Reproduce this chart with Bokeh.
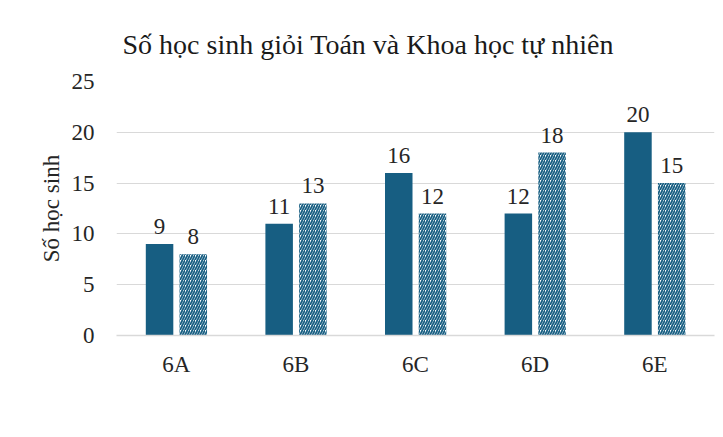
from bokeh.plotting import figure
from bokeh.models import (FactorRange, Range1d, FixedTicker, ColumnDataSource,
                          Legend, LegendItem)
from bokeh.transform import dodge
from bokeh.core.properties import value
from bokeh.embed import file_html
from bokeh.resources import INLINE

# ---- data ----
classes = ["6A", "6B", "6C", "6D", "6E"]
toan = [9, 11, 16, 12, 20]
khtn = [8, 13, 12, 18, 15]
series_names = ["Toán", "KHTN"]
y_ticks = [0, 5, 10, 15, 20, 25]
title_text = "Số học sinh giỏi Toán và Khoa học tự nhiên"
y_label = "Số học sinh"

FONT = "Liberation Serif"
BLUE = "#175e82"
TXT = "#262626"
FS = "23px"

src = ColumnDataSource(dict(
    cls=classes, toan=toan, khtn=khtn,
    toan_t=[str(v) for v in toan], khtn_t=[str(v) for v in khtn],
))

p = figure(frame_width=598, frame_height=254,
           x_range=FactorRange(*classes, range_padding=0),
           y_range=Range1d(0, 25), output_backend="svg", toolbar_location=None,
           min_border_left=116, min_border_right=9, min_border_top=81,
           min_border_bottom=0)
p.outline_line_color = None
p.background_fill_color = "white"
p.border_fill_color = "white"

# title
p.title.text = title_text
p.title.text_font = FONT
p.title.text_font_size = "28px"
p.title.text_font_style = "normal"
p.title.text_color = "#1a1a1a"
p.title.align = "left"
p.title.offset = 6
p.title.standoff = 43

r1 = p.vbar(x=dodge("cls", -0.14, range=p.x_range), top="toan", width=0.23,
            source=src, fill_color=BLUE, line_color=None)
r2 = p.vbar(x=dodge("cls", 0.142, range=p.x_range), top="khtn", width=0.23,
            source=src, fill_color="white", line_color=None,
            hatch_pattern="right_diagonal_line", hatch_color=BLUE,
            hatch_scale=5, hatch_weight=1.8)

p.text(x=dodge("cls", -0.14, range=p.x_range), y="toan", text="toan_t", source=src,
       text_font=value(FONT), text_font_size=FS, text_color=TXT,
       text_align="center", text_baseline="bottom", y_offset=-10)
p.text(x=dodge("cls", 0.142, range=p.x_range), y="khtn", text="khtn_t", source=src,
       text_font=value(FONT), text_font_size=FS, text_color=TXT,
       text_align="center", text_baseline="bottom", y_offset=-10)

# axes
p.yaxis.ticker = FixedTicker(ticks=y_ticks)
p.yaxis.axis_line_color = None
p.yaxis.major_tick_line_color = None
p.yaxis.minor_tick_line_color = None
p.yaxis.major_label_text_font = FONT
p.yaxis.major_label_text_font_size = FS
p.yaxis.major_label_text_color = TXT
p.yaxis.major_label_standoff = 16
p.yaxis.axis_label = y_label
p.yaxis.axis_label_text_font = FONT
p.yaxis.axis_label_text_font_size = FS
p.yaxis.axis_label_text_font_style = "normal"
p.yaxis.axis_label_text_color = TXT
p.yaxis.axis_label_standoff = 5

p.xaxis.axis_line_color = "#d9d9d9"
p.xaxis.axis_line_width = 1.5
p.xaxis.major_tick_line_color = None
p.xaxis.minor_tick_line_color = None
p.xaxis.major_label_text_font = FONT
p.xaxis.major_label_text_font_size = FS
p.xaxis.major_label_text_color = TXT
p.xaxis.major_label_standoff = 10

p.xgrid.grid_line_color = None
p.ygrid.grid_line_color = "#d9d9d9"
p.ygrid.grid_line_width = 1.2

# legend
legend = Legend(items=[LegendItem(label=series_names[0], renderers=[r1]),
                       LegendItem(label=series_names[1], renderers=[r2])],
                location="center", orientation="horizontal",
                label_text_font=FONT, label_text_font_size=FS,
                label_text_color=TXT, glyph_width=11, glyph_height=11,
                label_standoff=7, spacing=19, padding=0, margin=18,
                border_line_color=None, background_fill_alpha=0)
p.add_layout(legend, "below")

open("out.html", "w").write(file_html(p, INLINE))
